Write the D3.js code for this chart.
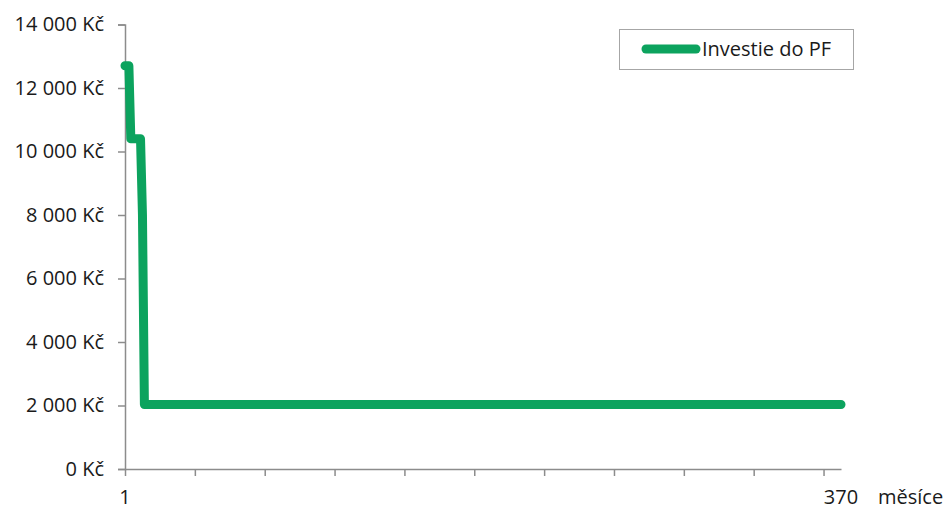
<!DOCTYPE html>
<html>
<head>
<meta charset="utf-8">
<script src="https://cdn.jsdelivr.net/npm/d3@7"></script>
<style>
  html, body { margin: 0; padding: 0; background: #ffffff; }
  svg { display: block; }
  text { font-family: "Open Sans", Lato, sans-serif; fill: #1a1a1a; font-variant-ligatures: none; }
</style>
</head>
<body>
<svg id="chart" width="945" height="510"></svg>
<script>
// Monthly contribution to the pension fund (Kč); the series changes only at these months
const months = [1, 3, 4, 9, 10, 11, 370];
const values = [12700, 12700, 10400, 10400, 8000, 2030, 2030];

// Axis definitions
const yTicks = [0, 2000, 4000, 6000, 8000, 10000, 12000, 14000];
const xTickMonths = [1, 37, 73, 109, 145, 181, 217, 253, 289, 325, 361];
const xLabelMonths = [1, 370];
const seriesName = "Investie do PF";
const xUnit = "měsíce";

const svg = d3.select("#chart");
const green = "#0ca35e";
const axisColor = "#8c8c8c";
const fontSize = "20px";

const x = d3.scaleLinear().domain([1, 370]).range([125, 841]);
const y = d3.scaleLinear().domain([0, 14000]).range([469, 24.5]);

const fmt = v => d3.format(",")(v).replace(/,/g, "\u00a0") + "\u00a0Kč";

// Y axis
const yAxis = svg.append("g")
  .attr("transform", `translate(${x(1)},0)`)
  .call(d3.axisLeft(y).tickValues(yTicks).tickSize(7).tickPadding(14).tickFormat(fmt));
yAxis.select(".domain").attr("stroke", axisColor).attr("stroke-width", 1.5);
yAxis.selectAll(".tick line").attr("stroke", axisColor).attr("stroke-width", 1.5);
yAxis.selectAll(".tick text")
  .style("font-family", "'Open Sans', Lato, sans-serif")
  .style("font-size", fontSize).attr("fill", "#1a1a1a");

// X axis: tick marks every 36 months, labels at the first and last month
const xAxis = svg.append("g")
  .attr("transform", `translate(0,${y(0)})`)
  .call(d3.axisBottom(x).tickValues(xTickMonths).tickSize(7).tickSizeOuter(0).tickFormat(""));
xAxis.select(".domain").attr("stroke", axisColor).attr("stroke-width", 1.5);
xAxis.selectAll(".tick line").attr("stroke", axisColor).attr("stroke-width", 1.5);

svg.append("g").selectAll("text")
  .data(xLabelMonths)
  .join("text")
  .attr("x", d => x(d))
  .attr("y", 504)
  .attr("text-anchor", "middle")
  .style("font-size", fontSize)
  .text(d => d);

svg.append("text")
  .attr("x", 878)
  .attr("y", 504)
  .style("font-size", fontSize)
  .text(xUnit);

// Series line
const points = months.map((m, i) => [m, values[i]]);
svg.append("path")
  .datum(points)
  .attr("fill", "none")
  .attr("stroke", green)
  .attr("stroke-width", 9)
  .attr("stroke-linecap", "round")
  .attr("stroke-linejoin", "round")
  .attr("d", d3.line().x(d => x(d[0])).y(d => y(d[1])));

// Legend
const legend = svg.append("g");
legend.append("rect")
  .attr("x", 619.5).attr("y", 29.5)
  .attr("width", 234).attr("height", 40)
  .attr("fill", "#ffffff").attr("stroke", "#a6a6a6").attr("stroke-width", 1);
legend.append("line")
  .attr("x1", 646).attr("x2", 696)
  .attr("y1", 49).attr("y2", 49)
  .attr("stroke", green).attr("stroke-width", 9).attr("stroke-linecap", "round");
legend.append("text")
  .attr("x", 702).attr("y", 56)
  .style("font-size", fontSize)
  .text(seriesName);
</script>
</body>
</html>
